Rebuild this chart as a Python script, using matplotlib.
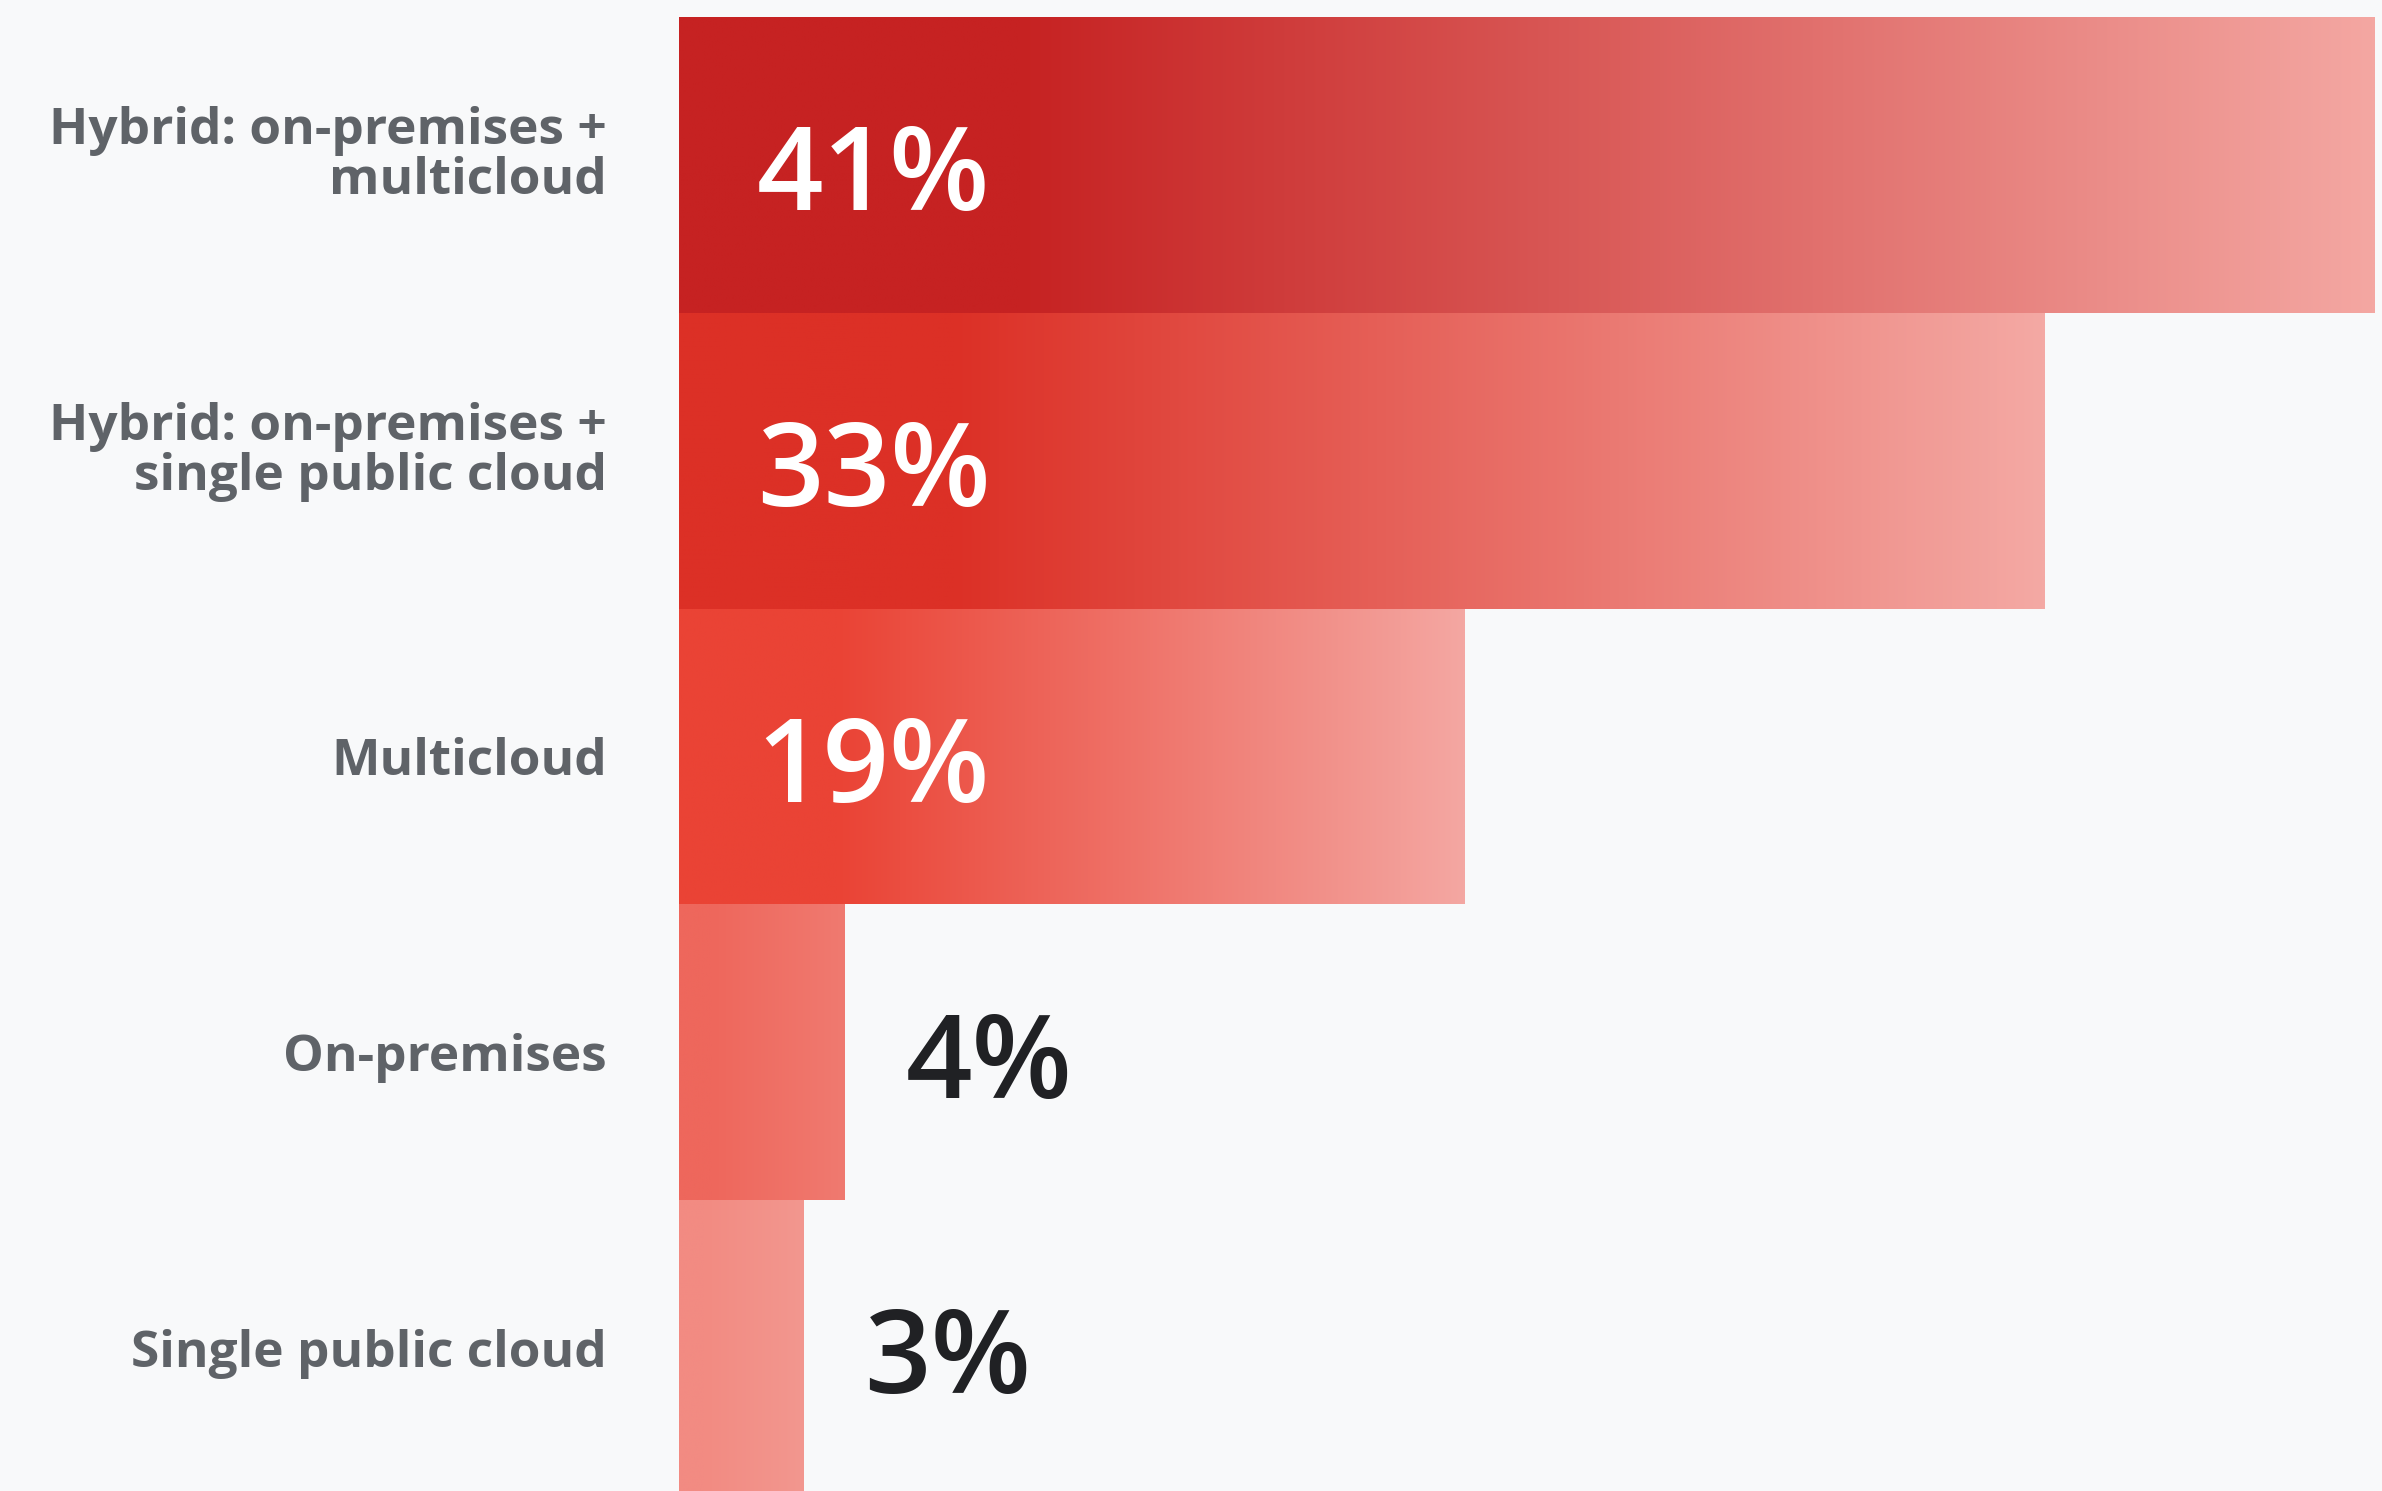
import matplotlib
matplotlib.use("Agg")
import matplotlib.pyplot as plt
import numpy as np
from matplotlib.colors import to_rgb

# dữ liệu
categories = ["Hybrid: on-premises +\nmulticloud",
              "Hybrid: on-premises +\nsingle public cloud",
              "Multicloud",
              "On-premises",
              "Single public cloud"]
values = [41, 33, 19, 4, 3]
labels = ["41%", "33%", "19%", "4%", "3%"]

# màu bắt đầu / kết thúc của mỗi thanh
start_colors = ["#c62222", "#dc3026", "#ea4335", "#ee675c", "#f28b82"]
end_colors = ["#f4a7a2", "#f4a9a4", "#f4a7a2", "#f07a70", "#f3978f"]

bg = "#f8f9fa"
plt.rcParams['font.family'] = ['Open Sans', 'DejaVu Sans']

fig = plt.figure(figsize=(23.82, 14.91), dpi=100, facecolor=bg)
ax = fig.add_axes([0.285, 0.0, 0.712, 1.0])
ax.set_facecolor(bg)

y = np.arange(len(values))
bars = ax.barh(y, values, height=1.0, color=start_colors, linewidth=0)

# tô gradient ngang cho từng thanh
for i, b in enumerate(bars):
    c0 = np.array(to_rgb(start_colors[i]))
    c1 = np.array(to_rgb(end_colors[i]))
    t = np.linspace(0, 1, 256)
    t = np.clip((t - 0.2) / 0.8, 0, 1)
    grad = c0[None, :] * (1 - t[:, None]) + c1[None, :] * t[:, None]
    im = ax.imshow(grad[None, :, :], extent=(0, values[i], i + 0.5, i - 0.5),
                   aspect='auto', interpolation='bilinear', zorder=2)
    im.set_clip_path(b)

# nhãn phần trăm
for i, v in enumerate(values):
    if v > 10:
        ax.annotate(labels[i], (0, i), xytext=(56, -11), textcoords='offset points',
                    ha='left', va='center', fontsize=84, fontweight='semibold',
                    color='white', zorder=3)
    else:
        ax.annotate(labels[i], (v, i), xytext=(44, -11), textcoords='offset points',
                    ha='left', va='center', fontsize=84, fontweight='semibold',
                    color='#202124', zorder=3)

# nhãn danh mục bên trái
for i, cat in enumerate(categories):
    dy = 6 if '\n' in cat else -4
    ax.annotate(cat, (0, i), xycoords=('axes fraction', 'data'),
                xytext=(-52, dy), textcoords='offset points',
                ha='right', va='center', fontsize=37, fontweight='bold',
                color='#5f6368', linespacing=1.0, annotation_clip=False)

ax.set_xlim(0, 41)
ax.set_ylim(4.483, -0.557)
ax.set_xticks([])
ax.set_yticks([])
for s in ax.spines.values():
    s.set_visible(False)

fig.savefig("out.png", dpi=100, facecolor=bg)
